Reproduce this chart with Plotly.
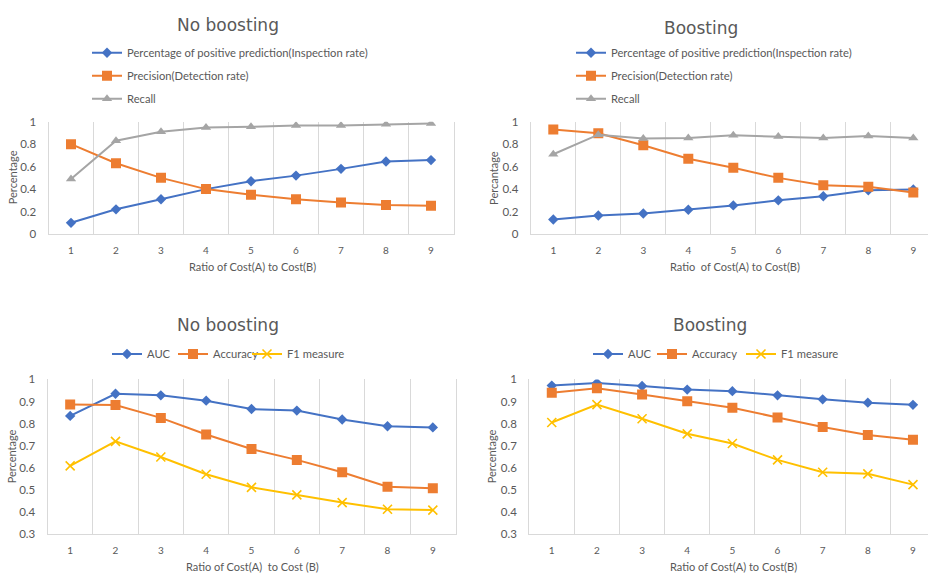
import plotly.graph_objects as go

# Cost ratio A:B on the x axis of all four panels
ratios = [1, 2, 3, 4, 5, 6, 7, 8, 9]
ratio_ticks = ["1", "2", "3", "4", "5", "6", "7", "8", "9"]

# Top row: inspection rate, precision and recall
nb_inspection = [0.10, 0.22, 0.31, 0.40, 0.47, 0.52, 0.58, 0.646, 0.658]
nb_precision = [0.80, 0.63, 0.50, 0.40, 0.35, 0.31, 0.28, 0.258, 0.252]
nb_recall = [0.49, 0.83, 0.91, 0.948, 0.954, 0.965, 0.965, 0.977, 0.983]

b_inspection = [0.13, 0.165, 0.183, 0.217, 0.255, 0.30, 0.336, 0.39, 0.397]
b_precision = [0.93, 0.896, 0.79, 0.67, 0.59, 0.50, 0.435, 0.42, 0.37]
b_recall = [0.71, 0.884, 0.85, 0.855, 0.878, 0.867, 0.855, 0.872, 0.855]

# Bottom row: AUC, accuracy and F1
nb_auc = [0.835, 0.935, 0.928, 0.904, 0.866, 0.859, 0.819, 0.788, 0.783]
nb_accuracy = [0.887, 0.884, 0.826, 0.751, 0.685, 0.636, 0.580, 0.515, 0.508]
nb_f1 = [0.609, 0.720, 0.649, 0.571, 0.512, 0.478, 0.443, 0.413, 0.409]

b_auc = [0.972, 0.984, 0.970, 0.954, 0.947, 0.928, 0.910, 0.895, 0.885]
b_accuracy = [0.940, 0.960, 0.932, 0.901, 0.872, 0.828, 0.785, 0.749, 0.727]
b_f1 = [0.805, 0.886, 0.822, 0.754, 0.710, 0.636, 0.580, 0.573, 0.524]

top_ticks = [0, 0.2, 0.4, 0.6, 0.8, 1]
top_tick_text = ["0", "0.2", "0.4", "0.6", "0.8", "1"]
bottom_ticks = [0.3, 0.4, 0.5, 0.6, 0.7, 0.8, 0.9, 1]
bottom_tick_text = ["0.3", "0.4", "0.5", "0.6", "0.7", "0.8", "0.9", "1"]

W, H = 928, 578
BLUE, ORANGE, GRAY, YELLOW = "#4472C4", "#ED7D31", "#A5A5A5", "#FFC000"
TEXT = "#595959"
GRID = "#D9D9D9"
FONT = "Lato"
TITLE_FONT = "DejaVu Sans"


def px(x):
    return x / W


def py(y):
    return 1 - y / H


fig = go.Figure()


def series(x, y, name, color, symbol, size, axis, legend, group=None):
    marker = dict(symbol=symbol, size=size, color=color)
    if symbol == "x-thin":
        marker["line"] = dict(color=color, width=1.6)
    fig.add_trace(go.Scatter(
        x=x, y=y, name=name, mode="lines+markers",
        line=dict(color=color, width=2), marker=marker,
        xaxis="x" + axis, yaxis="y" + axis,
        legend=legend, legendgroup=group, showlegend=True,
    ))


top_names = ["Percentage of positive prediction(Inspection rate)",
             "Precision(Detection rate)", "Recall"]
bottom_names = ["AUC", "Accuracy", "F1 measure"]

series(ratios, nb_inspection, top_names[0], BLUE, "diamond", 8, "", "legend", "a1")
series(ratios, nb_precision, top_names[1], ORANGE, "square", 10, "", "legend", "b1")
series(ratios, nb_recall, top_names[2], GRAY, "triangle-up", 9, "", "legend", "c1")

series(ratios, b_inspection, top_names[0], BLUE, "diamond", 8, "2", "legend2", "a2")
series(ratios, b_precision, top_names[1], ORANGE, "square", 10, "2", "legend2", "b2")
series(ratios, b_recall, top_names[2], GRAY, "triangle-up", 9, "2", "legend2", "c2")

# Bottom-row legend entries sit in a row; each one gets its own legend box
series(ratios, nb_auc, bottom_names[0], BLUE, "diamond", 8, "3", "legend3")
series(ratios, nb_accuracy, bottom_names[1], ORANGE, "square", 10, "3", "legend4")
series(ratios, nb_f1, bottom_names[2], YELLOW, "x-thin", 9, "3", "legend5")

series(ratios, b_auc, bottom_names[0], BLUE, "diamond", 8, "4", "legend6")
series(ratios, b_accuracy, bottom_names[1], ORANGE, "square", 10, "4", "legend7")
series(ratios, b_f1, bottom_names[2], YELLOW, "x-thin", 9, "4", "legend8")


def xaxis(left, right, r_end):
    return dict(
        domain=[px(left), min(px(right), 1.0)], range=[0.5, r_end],
        tickvals=ratios, ticktext=ratio_ticks, showgrid=False, zeroline=False,
        showline=True, linecolor=GRID, linewidth=1, ticks="",
        ticklabelstandoff=7, tickfont=dict(family=FONT, size=10, color=TEXT),
        minor=dict(tickvals=[i + 0.5 for i in range(0, 10)], showgrid=True,
                   gridcolor=GRID, gridwidth=1, ticks=""),
        fixedrange=True,
    )


def yaxis(top, bottom, rng, tv, tt, anchor, mirror):
    return dict(
        domain=[py(bottom), py(top)], range=rng, tickvals=tv, ticktext=tt,
        showgrid=False, zeroline=False, showline=True, linecolor=GRID,
        mirror=mirror, ticks="", ticklabelstandoff=9, anchor=anchor,
        tickfont=dict(family=FONT, size=11.5, color=TEXT), fixedrange=True,
    )


r_right_top = 0.5 + (W - 530.8) / 45.0
r_right_bottom = 0.5 + (W - 529.2) / 45.15

layout = dict(
    width=W, height=H, margin=dict(l=0, r=0, t=0, b=0),
    paper_bgcolor="white", plot_bgcolor="white",
    xaxis=xaxis(48.5, 453.5, 9.5),
    yaxis=yaxis(117.3, 232.3, [0, 1], top_ticks, top_tick_text, "x", True),
    xaxis2=xaxis(530.8, 936, r_right_top),
    yaxis2=yaxis(117.3, 232.3, [0, 1], top_ticks, top_tick_text, "x2", False),
    xaxis3=xaxis(47.5, 455.5, 9.5),
    yaxis3=yaxis(381, 539.3, [0.3, 1], bottom_ticks, bottom_tick_text, "x3", True),
    xaxis4=xaxis(529.2, 937, r_right_bottom),
    yaxis4=yaxis(381, 539.3, [0.3, 1], bottom_ticks, bottom_tick_text, "x4", False),
)
layout["xaxis"]["anchor"] = "y"
layout["xaxis2"]["anchor"] = "y2"
layout["xaxis3"]["anchor"] = "y3"
layout["xaxis4"]["anchor"] = "y4"

legend_font = dict(family=FONT, size=11.2, color=TEXT)
layout["legend"] = dict(x=px(87), y=py(32), xanchor="left", yanchor="top",
                        orientation="v", tracegroupgap=4, font=legend_font,
                        bgcolor="rgba(0,0,0,0)", traceorder="grouped")
layout["legend2"] = dict(x=px(571), y=py(32), xanchor="left", yanchor="top",
                         orientation="v", tracegroupgap=4, font=legend_font,
                         bgcolor="rgba(0,0,0,0)", traceorder="grouped")

# Left edge of each bottom-row legend entry
row_legends = {"legend3": 107, "legend4": 173, "legend5": 247,
               "legend6": 588, "legend7": 652, "legend8": 741}
for key, left in row_legends.items():
    layout[key] = dict(x=px(left), y=py(355), xanchor="left", yanchor="middle",
                       orientation="h", font=legend_font,
                       bgcolor="rgba(0,0,0,0)")

annotations = []


def label(text, x, y, size, family=FONT, angle=0):
    annotations.append(dict(
        text=text, x=px(x), y=py(y), xref="paper", yref="paper",
        xanchor="center", yanchor="middle", showarrow=False, textangle=angle,
        font=dict(family=family, size=size, color=TEXT),
    ))


label("No boosting", 227.5, 18.5, 17, TITLE_FONT)
label("Boosting", 701.3, 21, 17, TITLE_FONT)
label("No boosting", 228, 325, 17, TITLE_FONT)
label("Boosting", 709.7, 325, 17, TITLE_FONT)

label("Ratio of Cost(A) to Cost(B)", 252, 265, 11)
label("Ratio&nbsp; of Cost(A) to Cost(B)", 734.5, 265, 11)
label("Ratio of Cost(A)&nbsp; to Cost (B)", 252.5, 572, 11)
label("Ratio of Cost(A) to Cost(B)", 733, 572, 11)

label("Percentage", 12.7, 174.5, 11, angle=-90)
label("Percantage", 493.3, 174.5, 11, angle=-90)
label("Percentage", 11.7, 460, 11, angle=-90)
label("Percentage", 491.7, 460, 11, angle=-90)

layout["annotations"] = annotations
fig.update_layout(**layout)

fig.write_html("out.html")
